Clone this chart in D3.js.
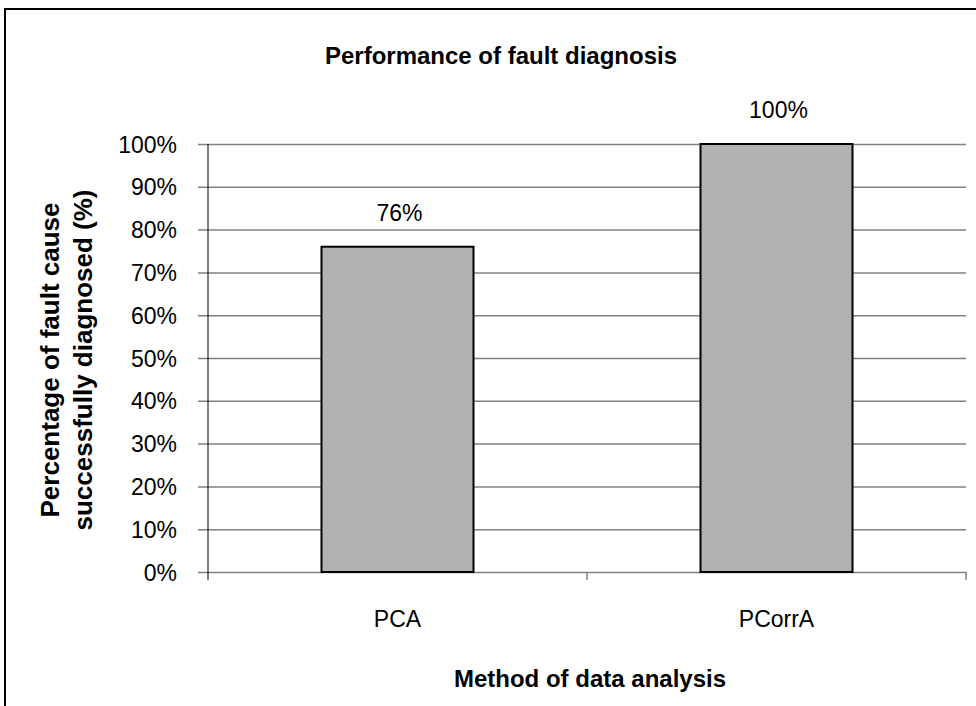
<!DOCTYPE html>
<html>
<head>
<meta charset="utf-8">
<script src="https://cdn.jsdelivr.net/npm/d3@7"></script>
<style>
  body { margin: 0; background: #fff; }
  text { font-family: "Liberation Sans", Arial, sans-serif; fill: #000; }
</style>
</head>
<body>
<script>
// data
var methods = ["PCA", "PCorrA"];
var success = [76, 100];
var yTicks = [0, 10, 20, 30, 40, 50, 60, 70, 80, 90, 100];

var W = 976, H = 706;
var plot = {left: 208, right: 966, top: 144, bottom: 572};

var svg = d3.select("body").append("svg")
    .attr("width", W)
    .attr("height", H);

// outer chart frame (runs off the right/bottom edge like the original)
svg.append("rect")
    .attr("x", 5).attr("y", 9)
    .attr("width", 1100).attr("height", 900)
    .attr("fill", "#fff")
    .attr("stroke", "#000")
    .attr("stroke-width", 2);

var x = d3.scaleBand()
    .domain(methods)
    .range([plot.left, plot.right])
    .paddingInner(0)
    .paddingOuter(0);

var y = d3.scaleLinear()
    .domain([0, 100])
    .range([plot.bottom, plot.top]);

// gridlines, drawn from the right edge out past the y axis
var gy = svg.append("g")
    .attr("transform", "translate(" + (plot.right) + ",0)");
gy.call(d3.axisLeft(y).tickValues(yTicks).tickSize(plot.right - plot.left + 10).tickFormat(""));
gy.select(".domain").remove();
gy.selectAll(".tick line").attr("stroke", "#808080").attr("stroke-width", 1.5);

// y tick labels
var gyl = svg.append("g")
    .attr("transform", "translate(" + plot.left + ",0)");
gyl.call(d3.axisLeft(y).tickValues(yTicks).tickSize(0).tickPadding(31)
    .tickFormat(function(d) { return d + "%"; }));
gyl.select(".domain").remove();
gyl.selectAll(".tick text")
    .style("font-size", "23px")
    .attr("dy", "0.35em");

// y axis line (black, sticks out a little below zero)
svg.append("line")
    .attr("x1", plot.left).attr("x2", plot.left)
    .attr("y1", plot.top).attr("y2", plot.bottom + 8)
    .attr("stroke", "#000").attr("stroke-width", 1);

// x axis category ticks
var xBounds = methods.map(function(m) { return x(m) + x.bandwidth(); });
svg.selectAll(".xtick")
    .data(xBounds)
    .enter().append("line")
    .attr("class", "xtick")
    .attr("x1", function(d) { return d; })
    .attr("x2", function(d) { return d; })
    .attr("y1", plot.bottom)
    .attr("y2", plot.bottom + 8)
    .attr("stroke", "#808080")
    .attr("stroke-width", 1.5);

svg.selectAll(".xlabel")
    .data(methods)
    .enter().append("text")
    .attr("class", "xlabel")
    .attr("x", function(d) { return x(d) + x.bandwidth() / 2; })
    .attr("y", 627)
    .attr("text-anchor", "middle")
    .style("font-size", "23px")
    .text(function(d) { return d; });

// bars
var barW = 152;
svg.selectAll(".bar")
    .data(success)
    .enter().append("rect")
    .attr("class", "bar")
    .attr("x", function(d, i) { return x(methods[i]) + (x.bandwidth() - barW) / 2; })
    .attr("width", barW)
    .attr("y", function(d) { return y(d); })
    .attr("height", function(d) { return y(0) - y(d); })
    .attr("fill", "#b2b2b2")
    .attr("stroke", "#000")
    .attr("stroke-width", 2);

// value labels
svg.selectAll(".val")
    .data(success)
    .enter().append("text")
    .attr("class", "val")
    .attr("x", function(d, i) { return x(methods[i]) + x.bandwidth() / 2 + 2; })
    .attr("y", function(d) { return y(d) - 26; })
    .attr("text-anchor", "middle")
    .style("font-size", "23px")
    .text(function(d) { return d + "%"; });

// titles
svg.append("text")
    .attr("x", 501).attr("y", 64)
    .attr("text-anchor", "middle")
    .style("font-size", "24px")
    .style("font-weight", "bold")
    .text("Performance of fault diagnosis");

svg.append("text")
    .attr("x", 590).attr("y", 687)
    .attr("text-anchor", "middle")
    .style("font-size", "24px")
    .style("font-weight", "bold")
    .text("Method of data analysis");

var yt = svg.append("text")
    .attr("transform", "translate(0," + 360 + ") rotate(-90)")
    .attr("text-anchor", "middle")
    .style("font-size", "26px")
    .style("font-weight", "bold");
yt.append("tspan").attr("x", 0).attr("y", 59).text("Percentage of fault cause");
yt.append("tspan").attr("x", 0).attr("y", 92).text("successfully diagnosed (%)");
</script>
</body>
</html>
